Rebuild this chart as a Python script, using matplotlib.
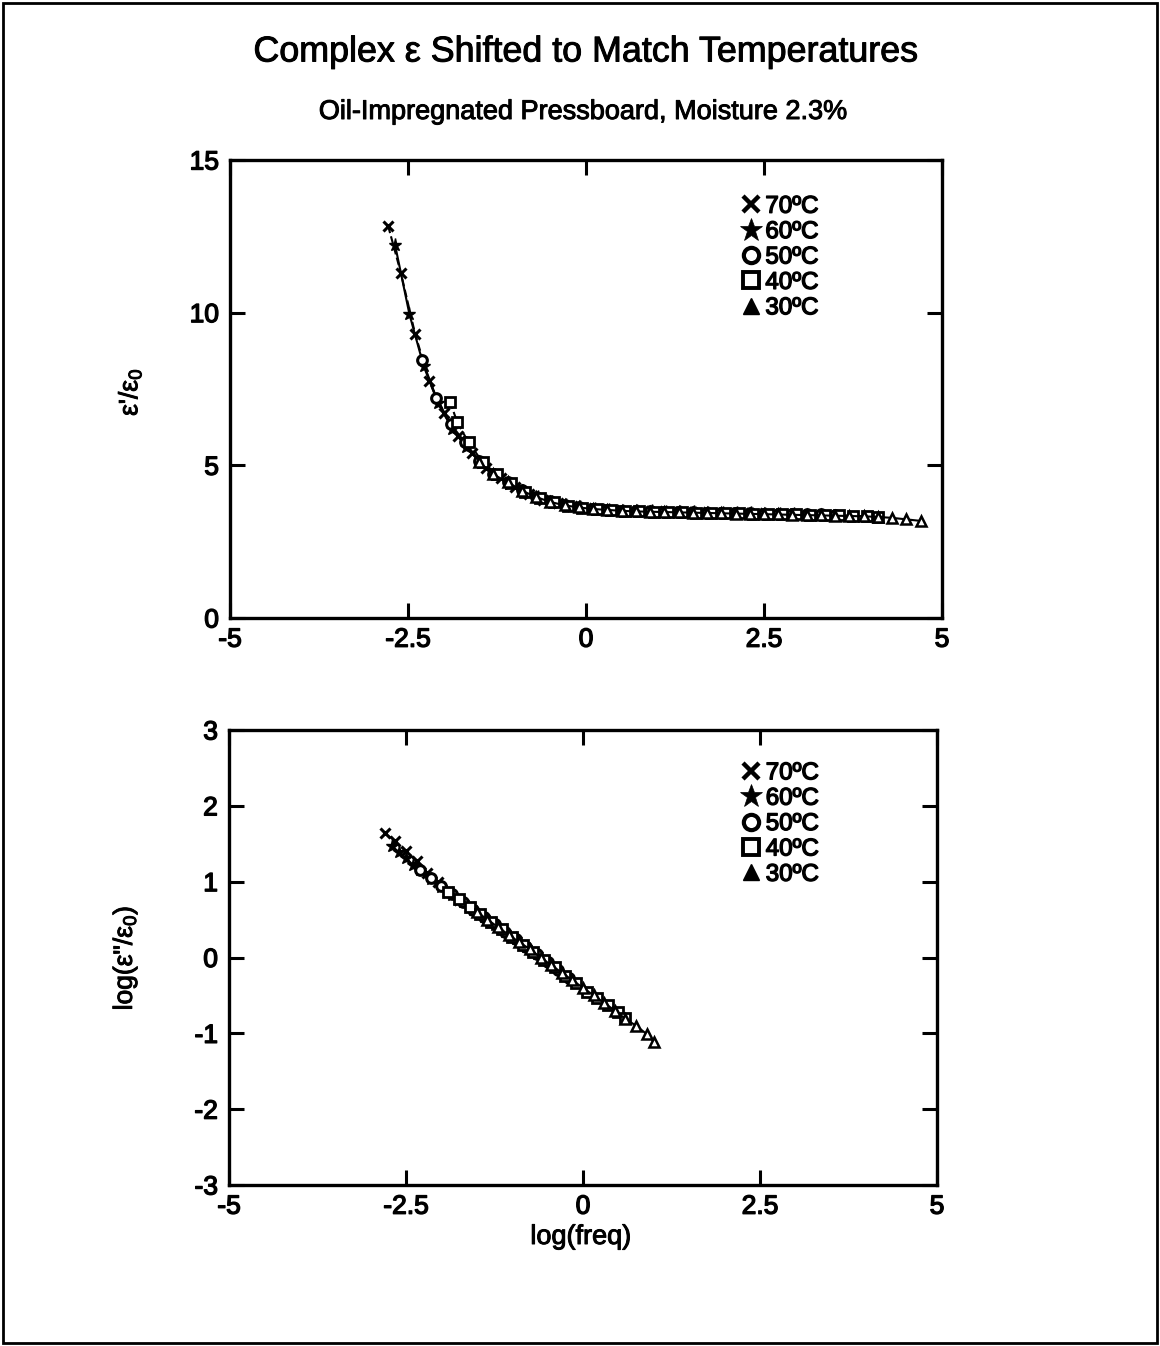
import matplotlib
matplotlib.use("Agg")
import matplotlib.pyplot as plt
from matplotlib.lines import Line2D
from matplotlib.patches import Rectangle
import matplotlib.patheffects as pe

plt.rcParams['font.family'] = ['Liberation Sans', 'DejaVu Sans']
plt.rcParams['axes.unicode_minus'] = False
plt.rcParams['mathtext.fontset'] = 'custom'
plt.rcParams['mathtext.rm'] = 'Liberation Sans'
plt.rcParams['mathtext.it'] = 'Liberation Sans'

# ---------------- data ----------------
temps = ["70ºC", "60ºC", "50ºC", "40ºC", "30ºC"]

# top panel: eps'/eps0 vs shifted log(freq)
x70_top = [-2.78, -2.6, -2.4, -2.2, -2.0, -1.8, -1.6, -1.4, -1.2, -1.0, -0.8, -0.6, -0.4, -0.2, 0.0,
           0.2, 0.4, 0.6, 0.8, 1.0, 1.2, 1.4, 1.6, 1.8, 2.0, 2.2, 2.4]
y70_top = [12.85, 11.3, 9.3, 7.75, 6.7, 5.95, 5.4, 4.9, 4.57, 4.3, 4.05, 3.88, 3.75, 3.66, 3.6,
           3.56, 3.53, 3.51, 3.5, 3.49, 3.48, 3.47, 3.46, 3.45, 3.44, 3.44, 3.43]

x60_top = [-2.68, -2.48, -2.28, -2.08, -1.88, -1.68, -1.48, -1.28, -1.08, -0.88, -0.68, -0.48, -0.28,
           -0.08, 0.12, 0.32, 0.52, 0.72, 0.92, 1.12, 1.32, 1.52, 1.72, 1.92, 2.12, 2.32, 2.52, 2.72, 2.92]
y60_top = [12.2, 9.95, 8.25, 7.05, 6.2, 5.6, 5.08, 4.68, 4.4, 4.15, 3.95, 3.8, 3.69,
           3.62, 3.57, 3.54, 3.52, 3.5, 3.49, 3.48, 3.47, 3.46, 3.45, 3.45, 3.44, 3.43, 3.42, 3.41, 3.41]

x50_top = [-2.3, -2.1, -1.9, -1.7, -1.5, -1.3, -1.1, -0.9, -0.7, -0.5, -0.3, -0.1, 0.1, 0.3, 0.5,
           0.7, 0.9, 1.1, 1.3, 1.5, 1.7, 1.9, 2.1, 2.3, 2.5, 2.7, 2.9, 3.1, 3.3, 3.5]
y50_top = [8.45, 7.2, 6.35, 5.75, 5.15, 4.72, 4.45, 4.18, 3.97, 3.82, 3.7, 3.63, 3.58, 3.55, 3.52,
           3.5, 3.49, 3.48, 3.47, 3.46, 3.45, 3.45, 3.44, 3.43, 3.42, 3.41, 3.41, 3.4, 3.39, 3.38]

x40_top = [-1.91, -1.81, -1.65, -1.45, -1.25, -1.05, -0.85, -0.65, -0.45, -0.25, -0.05, 0.15, 0.35,
           0.55, 0.75, 0.95, 1.15, 1.35, 1.55, 1.75, 1.95, 2.15, 2.35, 2.55, 2.75, 2.95, 3.15, 3.35,
           3.55, 3.75, 3.95, 4.1]
y40_top = [7.09, 6.42, 5.75, 5.1, 4.7, 4.42, 4.14, 3.94, 3.79, 3.68, 3.61, 3.56, 3.53,
           3.51, 3.49, 3.48, 3.47, 3.46, 3.45, 3.44, 3.43, 3.43, 3.42, 3.41, 3.4, 3.39, 3.38, 3.37,
           3.36, 3.35, 3.33, 3.3]

x30_top = [-1.5, -1.3, -1.1, -0.9, -0.7, -0.5, -0.3, -0.1, 0.1, 0.3, 0.5, 0.7, 0.9, 1.1, 1.3, 1.5,
           1.7, 1.9, 2.1, 2.3, 2.5, 2.7, 2.9, 3.1, 3.3, 3.5, 3.7, 3.9, 4.1, 4.3, 4.5, 4.7]
y30_top = [5.1, 4.7, 4.45, 4.17, 3.96, 3.8, 3.69, 3.62, 3.57, 3.54, 3.51, 3.49, 3.48, 3.47, 3.46, 3.45,
           3.44, 3.43, 3.42, 3.41, 3.4, 3.39, 3.38, 3.37, 3.36, 3.35, 3.34, 3.33, 3.31, 3.28, 3.23, 3.18]

# bottom panel: log(eps''/eps0) vs shifted log(freq)
x70_bot = [-2.8, -2.65, -2.5, -2.35, -2.2, -2.05, -1.9, -1.75, -1.6, -1.45, -1.3, -1.15, -1.0]
y70_bot = [1.64, 1.53, 1.40, 1.27, 1.12, 0.99, 0.87, 0.76, 0.67, 0.57, 0.47, 0.37, 0.27]

x60_bot = [-2.7, -2.6, -2.5, -2.4, -2.3, -2.15, -2.0, -1.85, -1.7, -1.55, -1.4, -1.25, -1.1, -0.95,
           -0.8, -0.65]
y60_bot = [1.47, 1.39, 1.31, 1.22, 1.15, 1.04, 0.93, 0.83, 0.73, 0.63, 0.53, 0.43, 0.34, 0.24,
           0.14, 0.04]

x50_bot = [-2.3, -2.15, -2.0, -1.85, -1.7, -1.55, -1.4, -1.25, -1.1, -0.95, -0.8, -0.65, -0.5, -0.35, -0.2]
y50_bot = [1.16, 1.05, 0.94, 0.84, 0.73, 0.63, 0.53, 0.44, 0.34, 0.24, 0.14, 0.04, -0.06, -0.16, -0.27]

x40_bot = [-1.9, -1.75, -1.6, -1.45, -1.3, -1.15, -1.0, -0.85, -0.7, -0.55, -0.4, -0.25, -0.1, 0.05,
           0.2, 0.35, 0.5, 0.6]
y40_bot = [0.87, 0.77, 0.67, 0.57, 0.47, 0.37, 0.27, 0.17, 0.07, -0.03, -0.13, -0.24, -0.34, -0.45,
           -0.54, -0.63, -0.72, -0.80]

x30_bot = [-1.5, -1.35, -1.2, -1.05, -0.9, -0.75, -0.6, -0.45, -0.3, -0.15, 0.0, 0.15, 0.3, 0.45,
           0.6, 0.75, 0.9, 1.0]
y30_bot = [0.60, 0.50, 0.40, 0.30, 0.20, 0.11, 0.0, -0.10, -0.20, -0.30, -0.40, -0.50, -0.60, -0.70,
           -0.81, -0.90, -1.01, -1.11]

xticks = [-5, -2.5, 0, 2.5, 5]
xticklabels = ["-5", "-2.5", "0", "2.5", "5"]
yticks_top = [0, 5, 10, 15]
yticks_bot = [-3, -2, -1, 0, 1, 2, 3]

# ---------------- styles ----------------
styles = [
    dict(marker='x', mfc='black', ms=7, mew=2.2),
    dict(marker='*', mfc='black', ms=9.5, mew=1.0),
    dict(marker='o', mfc='white', ms=7, mew=2.2),
    dict(marker='s', mfc='white', ms=6.5, mew=2.0),
    dict(marker='^', mfc='white', ms=7, mew=1.8),
]
leg_styles = [
    dict(marker='x', mfc='black', ms=11, mew=3.2),
    dict(marker='*', mfc='black', ms=17, mew=0.5),
    dict(marker='o', mfc='white', ms=11, mew=3.0),
    dict(marker='s', mfc='white', ms=12, mew=2.8),
    dict(marker='^', mfc='black', ms=11.5, mew=1.0),
]
line_styles = ['--', '-', '-', '--', '-']

thick_small = [pe.withStroke(linewidth=1.0, foreground='black')]
thick_big = [pe.withStroke(linewidth=0.7, foreground='black')]

fig = plt.figure(figsize=(11.6, 13.46), dpi=100)
W, H = 1160, 1346
ax1 = fig.add_axes([230 / W, 1 - 618 / H, 712 / W, 458 / H])
ax2 = fig.add_axes([229 / W, 1 - 1185 / H, 708 / W, 455 / H])

top_sets = [(x70_top, y70_top), (x60_top, y60_top), (x50_top, y50_top), (x40_top, y40_top), (x30_top, y30_top)]
bot_sets = [(x70_bot, y70_bot), (x60_bot, y60_bot), (x50_bot, y50_bot), (x40_bot, y40_bot), (x30_bot, y30_bot)]

for ax, sets, anchor in ((ax1, top_sets, (0.719, 0.922)), (ax2, bot_sets, (0.725, 0.929))):
    for (xs, ys), st, ls in zip(sets, styles, line_styles):
        ax.plot(xs, ys, color='black', mec='black', lw=1.5, ls=ls, **st)
    handles = [Line2D([], [], color='black', mec='black', ls='none', **s) for s in leg_styles]
    leg = ax.legend(handles, temps, loc='upper left', bbox_to_anchor=anchor, frameon=False,
                    fontsize=17.4, handlelength=0.75, handletextpad=0.22, labelspacing=0.14,
                    borderpad=0, borderaxespad=0)
    for t in leg.get_texts():
        t.set_path_effects(thick_small)
    ax.set_xlim(-5, 5)
    ax.set_xticks(xticks)
    ax.set_xticklabels(xticklabels)
    ax.tick_params(direction='in', length=11, width=2.2, top=True, right=True, labelsize=19)
    ax.tick_params(axis='x', pad=7)
    ax.tick_params(axis='y', pad=8)
    for sp in ax.spines.values():
        sp.set_linewidth(2.4)

ax1.set_ylim(0, 15)
ax1.set_yticks(yticks_top)
ax2.set_ylim(-3, 3)
ax2.set_yticks(yticks_bot)
for ax in (ax1, ax2):
    for lab in ax.get_xticklabels() + ax.get_yticklabels():
        lab.set_path_effects(thick_small)

texts = [
    fig.text(586 / W, 1 - 52 / H, "Complex ε Shifted to Match Temperatures", ha='center', va='center',
             fontsize=25.8),
    fig.text(584 / W, 1 - 112 / H, "Oil-Impregnated Pressboard, Moisture 2.3%", ha='center', va='center',
             fontsize=19.5),
    fig.text(130 / W, 1 - 392 / H, "ε'/ε$_0$", rotation=90, ha='center', va='center', fontsize=19),
    fig.text(125 / W, 1 - 958 / H, "log(ε\"/ε$_0$)", rotation=90, ha='center', va='center', fontsize=19),
    fig.text(581 / W, 1 - 1237 / H, "log(freq)", ha='center', va='center', fontsize=19.5),
]
for t in texts:
    t.set_path_effects(thick_big)

fig.patches.append(Rectangle((3 / W, 3 / H), 1 - 6 / W, 1 - 6 / H, transform=fig.transFigure,
                             fill=False, lw=2, ec='black'))

fig.savefig("out.png", dpi=100)
